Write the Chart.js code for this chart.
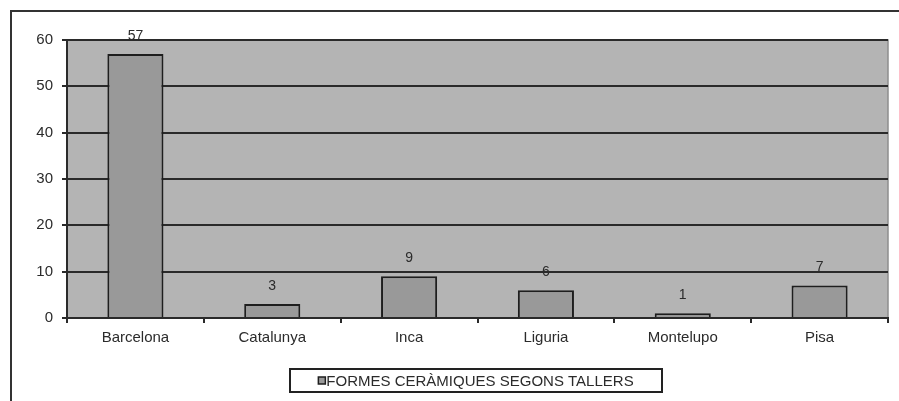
<!DOCTYPE html>
<html>
<head>
<meta charset="utf-8">
<script src="https://cdn.jsdelivr.net/npm/chart.js@4"></script>
<style>
  html, body { margin: 0; padding: 0; background: #fff; }
  #wrap { width: 899px; height: 401px; }
</style>
</head>
<body>
<div id="wrap"><canvas id="chart" width="899" height="401"></canvas></div>
<script>
// workshops along the x-axis
const workshops = ["Barcelona", "Catalunya", "Inca", "Liguria", "Montelupo", "Pisa"];
// number of ceramic forms per workshop
const forms = [57, 3, 9, 6, 1, 7];
const yMin = 0;
const yMax = 60;
const yStep = 10;
const seriesName = "FORMES CERÀMIQUES SEGONS TALLERS";

const FONT = "'Liberation Sans', Arial, sans-serif";
const INK = "#2b2b2b";

// white page, outer frame and grey plot area
const frame = {
  id: "frame",
  beforeDraw(chart) {
    const { ctx, chartArea: a } = chart;
    ctx.save();
    ctx.fillStyle = "#fff";
    ctx.fillRect(0, 0, chart.width, chart.height);
    ctx.strokeStyle = "#333";
    ctx.lineWidth = 2;
    ctx.beginPath();
    ctx.moveTo(11, chart.height);
    ctx.lineTo(11, 11);
    ctx.lineTo(chart.width, 11);
    ctx.stroke();
    ctx.fillStyle = "#b4b4b4";
    ctx.fillRect(a.left, a.top, a.right - a.left, a.bottom - a.top);
    ctx.strokeStyle = "#8e8e8e";
    ctx.lineWidth = 1.5;
    ctx.strokeRect(a.left, a.top, a.right - a.left, a.bottom - a.top);
    ctx.restore();
  }
};

// value above each bar
const valueLabels = {
  id: "valueLabels",
  afterDatasetsDraw(chart) {
    const { ctx } = chart;
    const meta = chart.getDatasetMeta(0);
    ctx.save();
    ctx.font = "14px " + FONT;
    ctx.fillStyle = INK;
    ctx.textAlign = "center";
    ctx.textBaseline = "middle";
    meta.data.forEach((bar, i) => {
      ctx.fillText(String(forms[i]), bar.x, bar.y - 18);
    });
    ctx.restore();
  }
};

// boxed legend under the axis
const boxLegend = {
  id: "boxLegend",
  afterDraw(chart) {
    const { ctx } = chart;
    const ds = chart.data.datasets[0];
    const x0 = 290, x1 = 662, y0 = 369, y1 = 392;
    ctx.save();
    ctx.fillStyle = "#fff";
    ctx.fillRect(x0, y0, x1 - x0, y1 - y0);
    ctx.strokeStyle = "#222";
    ctx.lineWidth = 2;
    ctx.strokeRect(x0, y0, x1 - x0, y1 - y0);
    ctx.font = "15px " + FONT;
    const tw = ctx.measureText(ds.label).width;
    const sw = 7;
    const total = sw + 1 + tw;
    const sx = (x0 + x1) / 2 - total / 2;
    const cy = (y0 + y1) / 2;
    ctx.fillStyle = ds.backgroundColor;
    ctx.fillRect(sx, cy - sw / 2, sw, sw);
    ctx.strokeStyle = ds.borderColor;
    ctx.lineWidth = 1.5;
    ctx.strokeRect(sx, cy - sw / 2, sw, sw);
    ctx.fillStyle = INK;
    ctx.textBaseline = "middle";
    ctx.fillText(ds.label, sx + sw + 1, cy + 1);
    ctx.restore();
  }
};

new Chart(document.getElementById("chart"), {
  type: "bar",
  data: {
    labels: workshops,
    datasets: [{
      label: seriesName,
      data: forms,
      backgroundColor: "#999999",
      borderColor: "#1e1e1e",
      borderWidth: 2,
      categoryPercentage: 1,
      barPercentage: 0.41
    }]
  },
  options: {
    responsive: false,
    animation: false,
    devicePixelRatio: 1,
    layout: { padding: { left: 0, top: 40, right: 11, bottom: 0 } },
    plugins: {
      legend: { display: false },
      tooltip: { enabled: false }
    },
    scales: {
      x: {
        afterFit(scale) { scale.height = 83; },
        grid: {
          offset: true,
          drawOnChartArea: false,
          color: "#2a2a2a",
          lineWidth: 2,
          tickLength: 5
        },
        border: { display: true, color: "#2a2a2a", width: 2 },
        ticks: { color: INK, font: { family: FONT, size: 15 }, padding: 6, maxRotation: 0 }
      },
      y: {
        min: yMin,
        max: yMax,
        afterFit(scale) { scale.width = 67; },
        grid: { color: "#2a2a2a", lineWidth: 2, tickLength: 5 },
        border: { display: true, color: "#2a2a2a", width: 2 },
        ticks: { stepSize: yStep, color: INK, font: { family: FONT, size: 15 }, padding: 9 }
      }
    }
  },
  plugins: [frame, valueLabels, boxLegend]
});
</script>
</body>
</html>
